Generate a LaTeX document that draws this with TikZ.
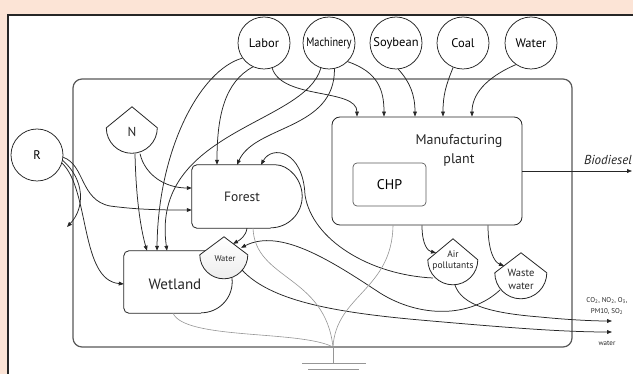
\documentclass[tikz,border=0pt]{standalone}
\usepackage{fontspec}
\setmainfont{PT Sans}
\usetikzlibrary{arrows.meta,calc}
\definecolor{peach}{RGB}{252,228,214}
\definecolor{ink}{RGB}{38,38,38}
\definecolor{sinkgray}{RGB}{150,150,150}

\begin{document}
\begin{tikzpicture}[x=1pt,y=-1pt,
  flow/.style={draw=ink, line width=0.75pt, -{Triangle[length=5pt,width=3.8pt]}},
  sinkline/.style={draw=sinkgray, line width=0.6pt},
  outline/.style={draw=ink, line width=0.8pt},
  source/.style={circle, draw=ink, line width=0.75pt, minimum size=52pt, inner sep=0pt,
    font=\fontsize{12.5}{14}\selectfont},
  holder/.style={draw=none, inner sep=0pt},
  lbl/.style={inner sep=0pt, align=center, text=ink}
]
\useasboundingbox (0,0) rectangle (633,374);
\fill[peach] (0,0) rectangle (633,374);
\fill[white] (8,15) rectangle (633,374);
\draw[line width=2pt, draw=black!85] (8,374) -- (8,15) -- (633,15);

% system boundary
\draw[draw=black!65, line width=1.2pt, rounded corners=9pt] (73,79) rectangle (572,347);

% outside sources
\node[source] (labor) at (264,43) {Labor};
\node[source] (mach) at (329,43) {\scalebox{0.82}[1]{Machinery}};
\node[source] (soy) at (396,43) {Soybean};
\node[source] (coal) at (463,43) {Coal};
\node[source] (wsrc) at (531,43) {Water};
\node[source] (R) at (37,155) {R};

% producers
\node[holder, minimum width=110pt, minimum height=63pt] (forest) at (247,196.5) {};
\draw[outline, rounded corners=5pt] ([xshift=-31.5pt]forest.south east) -- (forest.south west)
  -- (forest.north west) -- ([xshift=-31.5pt]forest.north east)
  {[sharp corners] arc[start angle=90, end angle=-90, radius=31.5pt]};
\node[lbl, font=\fontsize{13.5}{15}\selectfont] (forest-t) at (242,197) {Forest};

\node[holder, minimum width=108pt, minimum height=62pt] (wetland) at (178,282) {};
\draw[outline, rounded corners=5pt] ([xshift=-31pt]wetland.south east) -- (wetland.south west)
  -- (wetland.north west) -- ([xshift=-31pt]wetland.north east)
  {[sharp corners] arc[start angle=90, end angle=-90, radius=31pt]};
\node[lbl, font=\fontsize{15}{17}\selectfont] (wetland-t) at (175,284) {Wetland};

% manufacturing plant with CHP
\node[outline, rounded corners=8pt, minimum width=190pt, minimum height=108pt, inner sep=0pt] (plant) at (427,171) {};
\node[lbl, font=\fontsize{14}{19}\selectfont] (plant-t) at (459,150) {Manufacturing\\plant};
\node[draw=ink!75, line width=0.7pt, rounded corners=4pt, minimum width=73pt, minimum height=43pt,
  inner sep=0pt, font=\fontsize{14}{16}\selectfont] (chp) at (389.5,184.5) {CHP};

% storages
\node[holder, minimum width=51pt, minimum height=46.5pt] (N) at (132,130.25) {};
\draw[outline, fill=white] (N.north) -- ([yshift=-21pt]N.north west)
  arc[start angle=180, end angle=360, radius=25.5pt] -- cycle;
\node[lbl, font=\fontsize{13}{15}\selectfont] (N-t) at (132,132) {N};

\node[holder, minimum width=48pt, minimum height=42pt] (wt) at (224,258) {};
\draw[outline, top color=white, bottom color=black!7] (wt.north) -- ([yshift=-18pt]wt.north west)
  arc[start angle=180, end angle=360, radius=24pt] -- cycle;
\node[lbl, font=\fontsize{8.5}{10}\selectfont] (wt-t) at (225,259) {Water};

\node[holder, minimum width=50pt, minimum height=46pt] (air) at (453,262) {};
\draw[outline, fill=white] (air.north) -- ([yshift=-21pt]air.north west)
  arc[start angle=180, end angle=360, radius=25pt] -- cycle;
\node[lbl, font=\fontsize{9.5}{11}\selectfont] (air-t) at (453,261) {Air\\pollutants};

\node[holder, minimum width=52pt, minimum height=46pt] (waste) at (521,276) {};
\draw[outline, fill=white] (waste.north) -- ([yshift=-20pt]waste.north west)
  arc[start angle=180, end angle=360, radius=26pt] -- cycle;
\node[lbl, font=\fontsize{10.5}{13}\selectfont] (waste-t) at (521,279) {Waste\\water};

% free ends
\coordinate (bio) at (632,171);
\coordinate (rout) at (67,227);
\coordinate (gasout) at (612,321);
\coordinate (waterout) at (612,332);
\coordinate (sink) at (333,347);
\coordinate (gnd) at (333,363);

% inputs to the plant
\draw[flow] (labor.-72) .. controls (282,100) and (357,88) .. ([xshift=-70pt]plant.north);
\draw[flow] (mach.-45) .. controls (378,72) and (384,90) .. ([xshift=-43pt]plant.north);
\draw[flow] (soy.-85) .. controls (410,82) and (415,95) .. ([xshift=-12pt]plant.north);
\draw[flow] (coal.-112) .. controls (446,85) and (443,95) .. ([xshift=16pt]plant.north);
\draw[flow] (wsrc.-125) .. controls (485,78) and (472,95) .. ([xshift=45pt]plant.north);

% labor and machinery to forest and wetland
\draw[flow] (labor.-145) .. controls (200,70) and (158,150) .. ([xshift=-21pt]wetland.north);
\draw[flow] (labor.-115) .. controls (225,82) and (217,115) .. ([xshift=-30pt]forest.north);
\draw[flow] (mach.-108) .. controls (305,125) and (150,130) .. ([xshift=-11pt]wetland.north);
\draw[flow] (mach.-78) .. controls (335,130) and (255,125) .. ([xshift=-10pt]forest.north);

% renewable inputs
\draw[flow] (R.-5) .. controls (85,165) and (80,200) .. (110,206)
  .. controls (140,210) and (165,210) .. ([yshift=-13.5pt]forest.west);
\draw[flow] (R.-12) .. controls (85,180) and (85,208) .. (rout);
\draw[flow] (R.-18) .. controls (90,190) and (80,280) .. ([yshift=-2pt]wetland.west);
\draw[flow] ([xshift=3pt]N.south) .. controls (136,200) and (141,230) .. ([xshift=-31pt]wetland.north);
\draw[flow] ([xshift=8pt]N.south) .. controls (145,175) and (165,188) .. ([yshift=8.5pt]forest.west);

% forest, wetland water and pollutants
\draw[flow] (forest.south) .. controls (246,236) and (240,240) .. ([xshift=9pt,yshift=-7pt]wt.north);
\draw[flow] ([xshift=-20pt,yshift=-16pt]air.center) .. controls (370,275) and (312,240) .. (305,195)
  .. controls (303,150) and (272,145) .. ([xshift=14pt]forest.north);
\draw[flow] ([xshift=-21pt,yshift=-14pt]waste.center) .. controls (470,318) and (420,318) .. (380,293)
  .. controls (330,260) and (280,228) .. ([xshift=17pt,yshift=-11pt]wt.north);
\draw[flow] ([xshift=18pt,yshift=-12pt]wt.center) .. controls (270,300) and (330,312) .. (420,320)
  .. controls (500,327) and (560,332) .. (waterout);
\draw[flow] ([xshift=2pt]air.south) .. controls (462,305) and (490,313) .. (540,317)
  .. controls (570,320) and (595,321) .. (gasout);
\draw[flow] ([xshift=-5pt]plant.south) .. controls (422,245) and (428,251) .. ([xshift=-17pt,yshift=-14pt]air.north);
\draw[flow] ([xshift=61pt]plant.south) .. controls (488,250) and (494,262) .. ([xshift=-17pt,yshift=-13pt]waste.north);
\draw[flow] (plant.east) -- (bio);

% heat sink
\draw[sinkline] ([xshift=6pt]forest.south) .. controls (255,280) and (325,275) .. (sink);
\draw[sinkline] ([xshift=-34pt]plant.south) .. controls (392,290) and (336,295) .. (sink);
\draw[sinkline] ([xshift=-5pt]wetland.south) .. controls (185,340) and (300,330) .. (sink);
\draw[sinkline] (sink) -- (gnd);
\draw[sinkline, line width=0.8pt] ([xshift=-31pt]gnd) -- ([xshift=33pt]gnd);
\draw[sinkline, line width=0.8pt] ($(gnd)+(-25,6)$) -- ($(gnd)+(26,6)$);

% output labels
\node[lbl, anchor=south east, font=\fontsize{13}{15}\itshape] (bio-t) at (632,165) {Biodiesel};
\node[lbl, font=\fontsize{7}{11.5}\selectfont] (gas-t) at (607,306)
  {CO\textsubscript{2}, NO\textsubscript{2}, O\textsubscript{3},\\PM10, SO\textsubscript{2}};
\node[lbl, font=\fontsize{7}{9}\selectfont] (water-t) at (607,343) {water};
\end{tikzpicture}
\end{document}
